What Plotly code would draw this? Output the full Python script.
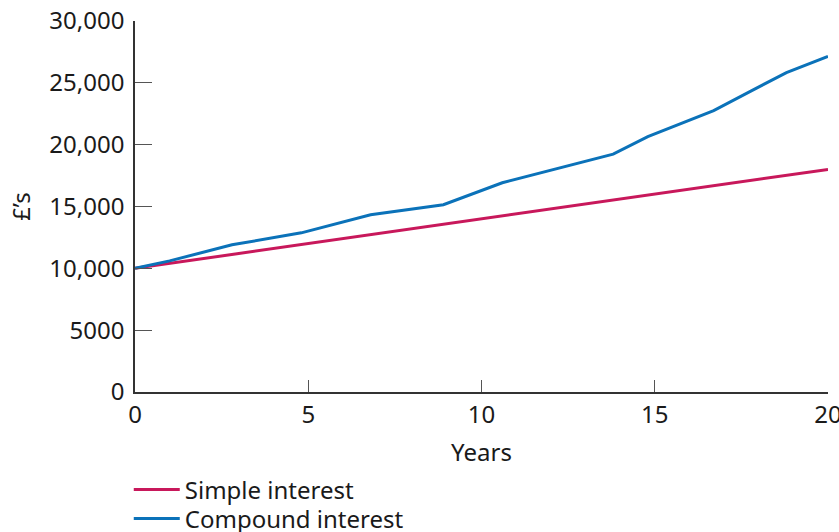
import plotly.graph_objects as go

# Growth of a £10,000 deposit over 20 years
simple_years = [0, 20]
simple_values = [10000, 18000]

compound_years = [0, 1.0, 2.8, 4.8, 6.8, 8.9, 10.6, 13.8, 14.8, 16.7, 17.8, 18.8, 20]
compound_values = [10000, 10600, 11900, 12870, 14330, 15140, 16920, 19230, 20650, 22750, 24370, 25830, 27130]

y_ticks = [0, 5000, 10000, 15000, 20000, 25000, 30000]
y_tick_text = [f"{v:,}" if v >= 10000 else str(v) for v in y_ticks]
x_ticks = [0, 5, 10, 15, 20]

RED = "#c8185b"
BLUE = "#0b72b9"
FONT = "Noto Sans"
SIZE = 24

fig = go.Figure()
fig.add_trace(go.Scatter(x=simple_years, y=simple_values, mode="lines",
                         name="Simple interest", line=dict(color=RED, width=3),
                         legend="legend"))
fig.add_trace(go.Scatter(x=compound_years, y=compound_values, mode="lines",
                         name="Compound interest", line=dict(color=BLUE, width=3),
                         legend="legend2"))

legend_style = dict(xanchor="left", yanchor="middle", itemwidth=46,
                    font=dict(family=FONT, size=SIZE, color="#1a1a1a"),
                    bgcolor="rgba(0,0,0,0)", borderwidth=0)

fig.update_layout(
    width=839, height=532,
    margin=dict(l=135, r=11, t=21, b=140, autoexpand=False),
    paper_bgcolor="white", plot_bgcolor="white",
    font=dict(family=FONT, size=SIZE, color="#1a1a1a"),
    showlegend=True,
    legend=dict(x=-0.009, y=-0.264, **legend_style),
    legend2=dict(x=-0.009, y=-0.342, **legend_style),
)
fig.update_xaxes(
    range=[0, 20], tickvals=x_ticks, showgrid=False, zeroline=False,
    showline=True, linecolor="#333333", linewidth=1.5, ticklabeloverflow="allow",
    ticks="inside", ticklen=12, tickwidth=1.2, tickcolor="#555555",
    tickfont=dict(size=SIZE), automargin=False,
    title=dict(text="Years", font=dict(size=SIZE), standoff=16),
)
fig.update_yaxes(
    range=[0, 30000], tickvals=y_ticks, ticktext=y_tick_text, showgrid=False,
    zeroline=False, showline=True, linecolor="#333333", linewidth=1.5,
    ticks="inside", ticklen=17, tickwidth=1.2, tickcolor="#555555",
    tickfont=dict(size=SIZE), ticklabelstandoff=4, automargin=False,
    title=dict(text="£’s", font=dict(size=SIZE), standoff=12),
)

fig.write_html("out.html")
